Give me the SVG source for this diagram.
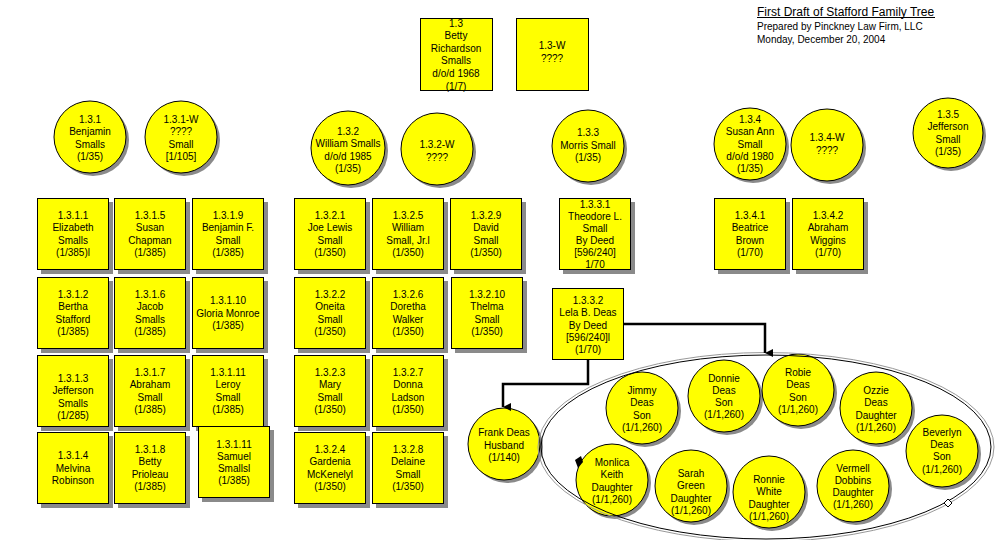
<svg xmlns="http://www.w3.org/2000/svg" width="1008" height="540" viewBox="0 0 1008 540">
<style>
.bx{fill:#ffff00;stroke:#000;stroke-width:1}
.sh{fill:#8a8a8a}
.t{font-family:"Liberation Sans",Arial,sans-serif;font-size:10px;fill:#000;text-anchor:middle}
.hd{font-family:"Liberation Sans",Arial,sans-serif;fill:#000}
.cn{fill:none;stroke:#000;stroke-width:2.5}
</style>
<defs>
<marker id="arr" markerUnits="userSpaceOnUse" markerWidth="10" markerHeight="10" viewBox="0 0 10 10" refX="5" refY="9" orient="auto-start-reverse">
<path d="M1,1 L9,1 L5,9 Z" fill="#000"/>
</marker>
</defs>
<rect width="1008" height="540" fill="#fff"/>

<g id="title">
<text class="hd" x="757" y="15.5" font-size="12">First Draft of Stafford Family Tree</text>
<line x1="757" y1="17.5" x2="935" y2="17.5" stroke="#000" stroke-width="1"/>
<text class="hd" x="757" y="29.5" font-size="10">Prepared by Pinckney Law Firm, LLC</text>
<text class="hd" x="757" y="42.5" font-size="10">Monday, December 20, 2004</text>
</g>

<g id="n1_3"><rect class="bx" x="420.5" y="18.5" width="72" height="72"/>
<text class="t" y="26.5"><tspan x="456">1.3</tspan><tspan x="456" dy="12.6">Betty</tspan><tspan x="456" dy="12.6">Richardson</tspan><tspan x="456" dy="12.6">Smalls</tspan><tspan x="456" dy="12.6">d/o/d 1968</tspan><tspan x="456" dy="12.6">(1/7)</tspan></text></g>
<g id="n1_3W"><rect class="bx" x="516.5" y="18.5" width="72" height="72"/>
<text class="t" y="49.4"><tspan x="552">1.3-W</tspan><tspan x="552" dy="12.2">????</tspan></text></g>

<g id="n1_3_1"><circle class="sh" cx="93" cy="140" r="36"/><circle class="bx" cx="90" cy="137" r="36"/>
<text class="t" y="123.2"><tspan x="90">1.3.1</tspan><tspan x="90" dy="12.2">Benjamin</tspan><tspan x="90" dy="12.2">Smalls</tspan><tspan x="90" dy="12.2">(1/35)</tspan></text></g>
<g id="n1_3_1W"><circle class="sh" cx="184" cy="140" r="36"/><circle class="bx" cx="181" cy="137" r="36"/>
<text class="t" y="123.2"><tspan x="181">1.3.1-W</tspan><tspan x="181" dy="12.2">????</tspan><tspan x="181" dy="12.2">Small</tspan><tspan x="181" dy="12.2">[1/105]</tspan></text></g>
<g id="n1_3_2"><circle class="sh" cx="351" cy="151" r="37"/><circle class="bx" cx="348" cy="148" r="37"/>
<text class="t" y="135.2"><tspan x="348">1.3.2</tspan><tspan x="348" dy="12.2">William Smalls</tspan><tspan x="348" dy="12.2">d/o/d 1985</tspan><tspan x="348" dy="12.2">(1/35)</tspan></text></g>
<g id="n1_3_2W"><circle class="sh" cx="440" cy="152" r="36"/><circle class="bx" cx="437" cy="149" r="36"/>
<text class="t" y="148.4"><tspan x="437">1.3.2-W</tspan><tspan x="437" dy="12.2">????</tspan></text></g>
<g id="n1_3_3"><circle class="sh" cx="591" cy="149" r="36"/><circle class="bx" cx="588" cy="146" r="36"/>
<text class="t" y="136.3"><tspan x="588">1.3.3</tspan><tspan x="588" dy="12.2">Morris Small</tspan><tspan x="588" dy="12.2">(1/35)</tspan></text></g>
<g id="n1_3_4"><circle class="sh" cx="753" cy="147" r="36"/><circle class="bx" cx="750" cy="144" r="36"/>
<text class="t" y="123.1"><tspan x="750">1.3.4</tspan><tspan x="750" dy="12.2">Susan Ann</tspan><tspan x="750" dy="12.2">Small</tspan><tspan x="750" dy="12.2">d/o/d 1980</tspan><tspan x="750" dy="12.2">(1/35)</tspan></text></g>
<g id="n1_3_4W"><circle class="sh" cx="830" cy="148" r="36"/><circle class="bx" cx="827" cy="145" r="36"/>
<text class="t" y="141.4"><tspan x="827">1.3.4-W</tspan><tspan x="827" dy="12.2">????</tspan></text></g>
<g id="n1_3_5"><circle class="sh" cx="951" cy="136" r="35"/><circle class="bx" cx="948" cy="133" r="35"/>
<text class="t" y="118.2"><tspan x="948">1.3.5</tspan><tspan x="948" dy="12.2">Jefferson</tspan><tspan x="948" dy="12.2">Small</tspan><tspan x="948" dy="12.2">(1/35)</tspan></text></g>

<g id="n1_3_1_1"><rect class="sh" x="41" y="202" width="72" height="72"/><rect class="bx" x="37.5" y="198.5" width="71" height="71"/>
<text class="t" y="219.2"><tspan x="73">1.3.1.1</tspan><tspan x="73" dy="12.2">Elizabeth</tspan><tspan x="73" dy="12.2">Smalls</tspan><tspan x="73" dy="12.2">(1/385)l</tspan></text></g>
<g id="n1_3_1_5"><rect class="sh" x="118" y="202" width="72" height="72"/><rect class="bx" x="114.5" y="198.5" width="71" height="71"/>
<text class="t" y="219.2"><tspan x="150">1.3.1.5</tspan><tspan x="150" dy="12.2">Susan</tspan><tspan x="150" dy="12.2">Chapman</tspan><tspan x="150" dy="12.2">(1/385)</tspan></text></g>
<g id="n1_3_1_9"><rect class="sh" x="196" y="202" width="72" height="72"/><rect class="bx" x="192.5" y="198.5" width="71" height="71"/>
<text class="t" y="219.2"><tspan x="228">1.3.1.9</tspan><tspan x="228" dy="12.2">Benjamin F.</tspan><tspan x="228" dy="12.2">Small</tspan><tspan x="228" dy="12.2">(1/385)</tspan></text></g>

<g id="n1_3_1_2"><rect class="sh" x="41" y="281" width="72" height="72"/><rect class="bx" x="37.5" y="277.5" width="71" height="71"/>
<text class="t" y="298.2"><tspan x="73">1.3.1.2</tspan><tspan x="73" dy="12.2">Bertha</tspan><tspan x="73" dy="12.2">Stafford</tspan><tspan x="73" dy="12.2">(1/385)</tspan></text></g>
<g id="n1_3_1_6"><rect class="sh" x="118" y="281" width="72" height="72"/><rect class="bx" x="114.5" y="277.5" width="71" height="71"/>
<text class="t" y="298.2"><tspan x="150">1.3.1.6</tspan><tspan x="150" dy="12.2">Jacob</tspan><tspan x="150" dy="12.2">Smalls</tspan><tspan x="150" dy="12.2">(1/385)</tspan></text></g>
<g id="n1_3_1_10"><rect class="sh" x="196" y="281" width="72" height="72"/><rect class="bx" x="192.5" y="277.5" width="71" height="71"/>
<text class="t" y="304.3"><tspan x="228">1.3.1.10</tspan><tspan x="228" dy="12.2">Gloria Monroe</tspan><tspan x="228" dy="12.2">(1/385)</tspan></text></g>

<g id="n1_3_1_3"><rect class="sh" x="41" y="359" width="72" height="72"/><rect class="bx" x="37.5" y="355.5" width="71" height="71"/>
<text class="t" y="382.2"><tspan x="73">1.3.1.3</tspan><tspan x="73" dy="12.2">Jefferson</tspan><tspan x="73" dy="12.2">Smalls</tspan><tspan x="73" dy="12.2">(1/285)</tspan></text></g>
<g id="n1_3_1_7"><rect class="sh" x="118" y="359" width="72" height="72"/><rect class="bx" x="114.5" y="355.5" width="71" height="71"/>
<text class="t" y="376.2"><tspan x="150">1.3.1.7</tspan><tspan x="150" dy="12.2">Abraham</tspan><tspan x="150" dy="12.2">Small</tspan><tspan x="150" dy="12.2">(1/385)</tspan></text></g>
<g id="n1_3_1_11a"><rect class="sh" x="196" y="359" width="72" height="72"/><rect class="bx" x="192.5" y="355.5" width="71" height="71"/>
<text class="t" y="376.2"><tspan x="228">1.3.1.11</tspan><tspan x="228" dy="12.2">Leroy</tspan><tspan x="228" dy="12.2">Small</tspan><tspan x="228" dy="12.2">(1/385)</tspan></text></g>

<g id="n1_3_1_4"><rect class="sh" x="41" y="436" width="72" height="72"/><rect class="bx" x="37.5" y="432.5" width="71" height="71"/>
<text class="t" y="459.3"><tspan x="73">1.3.1.4</tspan><tspan x="73" dy="12.2">Melvina</tspan><tspan x="73" dy="12.2">Robinson</tspan></text></g>
<g id="n1_3_1_8"><rect class="sh" x="118" y="436" width="72" height="72"/><rect class="bx" x="114.5" y="432.5" width="71" height="71"/>
<text class="t" y="453.2"><tspan x="150">1.3.1.8</tspan><tspan x="150" dy="12.2">Betty</tspan><tspan x="150" dy="12.2">Prioleau</tspan><tspan x="150" dy="12.2">(1/385)</tspan></text></g>
<g id="n1_3_1_11b"><rect class="sh" x="202" y="430" width="72" height="72"/><rect class="bx" x="198.5" y="426.5" width="71" height="71"/>
<text class="t" y="447.7"><tspan x="234">1.3.1.11</tspan><tspan x="234" dy="12.2">Samuel</tspan><tspan x="234" dy="12.2">Smallsl</tspan><tspan x="234" dy="12.2">(1/385)</tspan></text></g>

<g id="n1_3_2_1"><rect class="sh" x="298" y="202" width="72" height="72"/><rect class="bx" x="294.5" y="198.5" width="71" height="71"/>
<text class="t" y="219.2"><tspan x="330">1.3.2.1</tspan><tspan x="330" dy="12.2">Joe Lewis</tspan><tspan x="330" dy="12.2">Small</tspan><tspan x="330" dy="12.2">(1/350)</tspan></text></g>
<g id="n1_3_2_5"><rect class="sh" x="376" y="202" width="72" height="72"/><rect class="bx" x="372.5" y="198.5" width="71" height="71"/>
<text class="t" y="219.2"><tspan x="408">1.3.2.5</tspan><tspan x="408" dy="12.2">William</tspan><tspan x="408" dy="12.2">Small, Jr.l</tspan><tspan x="408" dy="12.2">(1/350)</tspan></text></g>
<g id="n1_3_2_9"><rect class="sh" x="454" y="202" width="72" height="72"/><rect class="bx" x="450.5" y="198.5" width="71" height="71"/>
<text class="t" y="219.2"><tspan x="486">1.3.2.9</tspan><tspan x="486" dy="12.2">David</tspan><tspan x="486" dy="12.2">Small</tspan><tspan x="486" dy="12.2">(1/350)</tspan></text></g>

<g id="n1_3_2_2"><rect class="sh" x="298" y="281" width="72" height="72"/><rect class="bx" x="294.5" y="277.5" width="71" height="71"/>
<text class="t" y="298.2"><tspan x="330">1.3.2.2</tspan><tspan x="330" dy="12.2">Oneita</tspan><tspan x="330" dy="12.2">Small</tspan><tspan x="330" dy="12.2">(1/350)</tspan></text></g>
<g id="n1_3_2_6"><rect class="sh" x="376" y="281" width="72" height="72"/><rect class="bx" x="372.5" y="277.5" width="71" height="71"/>
<text class="t" y="298.2"><tspan x="408">1.3.2.6</tspan><tspan x="408" dy="12.2">Doretha</tspan><tspan x="408" dy="12.2">Walker</tspan><tspan x="408" dy="12.2">(1/350)</tspan></text></g>
<g id="n1_3_2_10"><rect class="sh" x="455" y="281" width="72" height="72"/><rect class="bx" x="451.5" y="277.5" width="71" height="71"/>
<text class="t" y="298.2"><tspan x="487">1.3.2.10</tspan><tspan x="487" dy="12.2">Thelma</tspan><tspan x="487" dy="12.2">Small</tspan><tspan x="487" dy="12.2">(1/350)</tspan></text></g>

<g id="n1_3_2_3"><rect class="sh" x="298" y="359" width="72" height="72"/><rect class="bx" x="294.5" y="355.5" width="71" height="71"/>
<text class="t" y="376.2"><tspan x="330">1.3.2.3</tspan><tspan x="330" dy="12.2">Mary</tspan><tspan x="330" dy="12.2">Small</tspan><tspan x="330" dy="12.2">(1/350)</tspan></text></g>
<g id="n1_3_2_7"><rect class="sh" x="376" y="359" width="72" height="72"/><rect class="bx" x="372.5" y="355.5" width="71" height="71"/>
<text class="t" y="376.2"><tspan x="408">1.3.2.7</tspan><tspan x="408" dy="12.2">Donna</tspan><tspan x="408" dy="12.2">Ladson</tspan><tspan x="408" dy="12.2">(1/350)</tspan></text></g>

<g id="n1_3_2_4"><rect class="sh" x="298" y="436" width="72" height="72"/><rect class="bx" x="294.5" y="432.5" width="71" height="71"/>
<text class="t" y="453.2"><tspan x="330">1.3.2.4</tspan><tspan x="330" dy="12.2">Gardenia</tspan><tspan x="330" dy="12.2">McKenelyl</tspan><tspan x="330" dy="12.2">(1/350)</tspan></text></g>
<g id="n1_3_2_8"><rect class="sh" x="376" y="436" width="72" height="72"/><rect class="bx" x="372.5" y="432.5" width="71" height="71"/>
<text class="t" y="453.2"><tspan x="408">1.3.2.8</tspan><tspan x="408" dy="12.2">Delaine</tspan><tspan x="408" dy="12.2">Small</tspan><tspan x="408" dy="12.2">(1/350)</tspan></text></g>

<g id="n1_3_3_1"><rect class="sh" x="563" y="202" width="72" height="72"/><rect class="bx" x="559.5" y="198.5" width="71" height="71"/>
<text class="t" y="207.5"><tspan x="595">1.3.3.1</tspan><tspan x="595" dy="12">Theodore L.</tspan><tspan x="595" dy="12">Small</tspan><tspan x="595" dy="12">By Deed</tspan><tspan x="595" dy="12">[596/240]</tspan><tspan x="595" dy="12">1/70</tspan></text></g>
<g id="n1_3_4_1"><rect class="sh" x="718" y="202" width="72" height="72"/><rect class="bx" x="714.5" y="198.5" width="71" height="71"/>
<text class="t" y="219.2"><tspan x="750">1.3.4.1</tspan><tspan x="750" dy="12.2">Beatrice</tspan><tspan x="750" dy="12.2">Brown</tspan><tspan x="750" dy="12.2">(1/70)</tspan></text></g>
<g id="n1_3_4_2"><rect class="sh" x="796" y="202" width="72" height="72"/><rect class="bx" x="792.5" y="198.5" width="71" height="71"/>
<text class="t" y="219.2"><tspan x="828">1.3.4.2</tspan><tspan x="828" dy="12.2">Abraham</tspan><tspan x="828" dy="12.2">Wiggins</tspan><tspan x="828" dy="12.2">(1/70)</tspan></text></g>

<g id="n1_3_3_2"><rect class="bx" x="552.5" y="288.5" width="71" height="71"/>
<text class="t" y="304.1"><tspan x="588">1.3.3.2</tspan><tspan x="588" dy="12.2">Lela B. Deas</tspan><tspan x="588" dy="12.2">By Deed</tspan><tspan x="588" dy="12.2">[596/240]l</tspan><tspan x="588" dy="12.2">(1/70)</tspan></text></g>

<g id="frank"><circle class="sh" cx="507" cy="447" r="36"/><circle class="bx" cx="504" cy="444" r="36"/>
<text class="t" y="436.3"><tspan x="504">Frank Deas</tspan><tspan x="504" dy="12.2">Husband</tspan><tspan x="504" dy="12.2">(1/140)</tspan></text></g>

<g id="jimmy"><circle class="sh" cx="645" cy="411" r="36"/><circle class="bx" cx="642" cy="408" r="36"/>
<text class="t" y="394.2"><tspan x="642">Jimmy</tspan><tspan x="642" dy="12.2">Deas</tspan><tspan x="642" dy="12.2">Son</tspan><tspan x="642" dy="12.2">(1/1,260)</tspan></text></g>
<g id="donnie"><circle class="sh" cx="727" cy="399" r="36"/><circle class="bx" cx="724" cy="396" r="36"/>
<text class="t" y="381.6"><tspan x="724">Donnie</tspan><tspan x="724" dy="12.2">Deas</tspan><tspan x="724" dy="12.2">Son</tspan><tspan x="724" dy="12.2">(1/1,260)</tspan></text></g>
<g id="robie"><circle class="sh" cx="801" cy="393" r="36"/><circle class="bx" cx="798" cy="390" r="36"/>
<text class="t" y="376.2"><tspan x="798">Robie</tspan><tspan x="798" dy="12.2">Deas</tspan><tspan x="798" dy="12.2">Son</tspan><tspan x="798" dy="12.2">(1/1,260)</tspan></text></g>
<g id="ozzie"><circle class="sh" cx="879" cy="411" r="36"/><circle class="bx" cx="876" cy="408" r="36"/>
<text class="t" y="394.2"><tspan x="876">Ozzie</tspan><tspan x="876" dy="12.2">Deas</tspan><tspan x="876" dy="12.2">Daughter</tspan><tspan x="876" dy="12.2">(1/1,260)</tspan></text></g>
<g id="beverlyn"><circle class="sh" cx="945" cy="454" r="36"/><circle class="bx" cx="942" cy="451" r="36"/>
<text class="t" y="435.9"><tspan x="942">Beverlyn</tspan><tspan x="942" dy="12.2">Deas</tspan><tspan x="942" dy="12.2">Son</tspan><tspan x="942" dy="12.2">(1/1,260)</tspan></text></g>
<g id="monlica"><circle class="sh" cx="615" cy="483" r="36"/><circle class="bx" cx="612" cy="480" r="36"/>
<text class="t" y="466.2"><tspan x="612">Monlica</tspan><tspan x="612" dy="12.2">Keith</tspan><tspan x="612" dy="12.2">Daughter</tspan><tspan x="612" dy="12.2">(1/1,260)</tspan></text></g>
<g id="sarah"><circle class="sh" cx="694" cy="489" r="36"/><circle class="bx" cx="691" cy="486" r="36"/>
<text class="t" y="477.2"><tspan x="691">Sarah</tspan><tspan x="691" dy="12.2">Green</tspan><tspan x="691" dy="12.2">Daughter</tspan><tspan x="691" dy="12.2">(1/1,260)</tspan></text></g>
<g id="ronnie"><circle class="sh" cx="772" cy="495" r="36"/><circle class="bx" cx="769" cy="492" r="36"/>
<text class="t" y="483.2"><tspan x="769">Ronnie</tspan><tspan x="769" dy="12.2">White</tspan><tspan x="769" dy="12.2">Daughter</tspan><tspan x="769" dy="12.2">(1/1,260)</tspan></text></g>
<g id="vermell"><circle class="sh" cx="856" cy="489" r="36"/><circle class="bx" cx="853" cy="486" r="36"/>
<text class="t" y="471.8"><tspan x="853">Vermell</tspan><tspan x="853" dy="12.2">Dobbins</tspan><tspan x="853" dy="12.2">Daughter</tspan><tspan x="853" dy="12.2">(1/1,260)</tspan></text></g>

<g id="group-ellipse">
<ellipse cx="766" cy="447" rx="228" ry="94.5" fill="none" stroke="#999" stroke-width="1"/>
<ellipse cx="766" cy="447" rx="225" ry="92" fill="none" stroke="#000" stroke-width="1"/>
<path d="M575,460 L581,456 L583,462 L578,468 Z" fill="#000"/>
<path d="M944,503 L948,499 L952,503 L948,507 Z" fill="#fff" stroke="#000" stroke-width="1"/>
</g>

<g id="connectors">
<path class="cn" d="M588,360 V384 H503 V407" marker-end="url(#arr)"/>
<path class="cn" d="M624,324 H765 V353" marker-end="url(#arr)"/>
</g>
</svg>
